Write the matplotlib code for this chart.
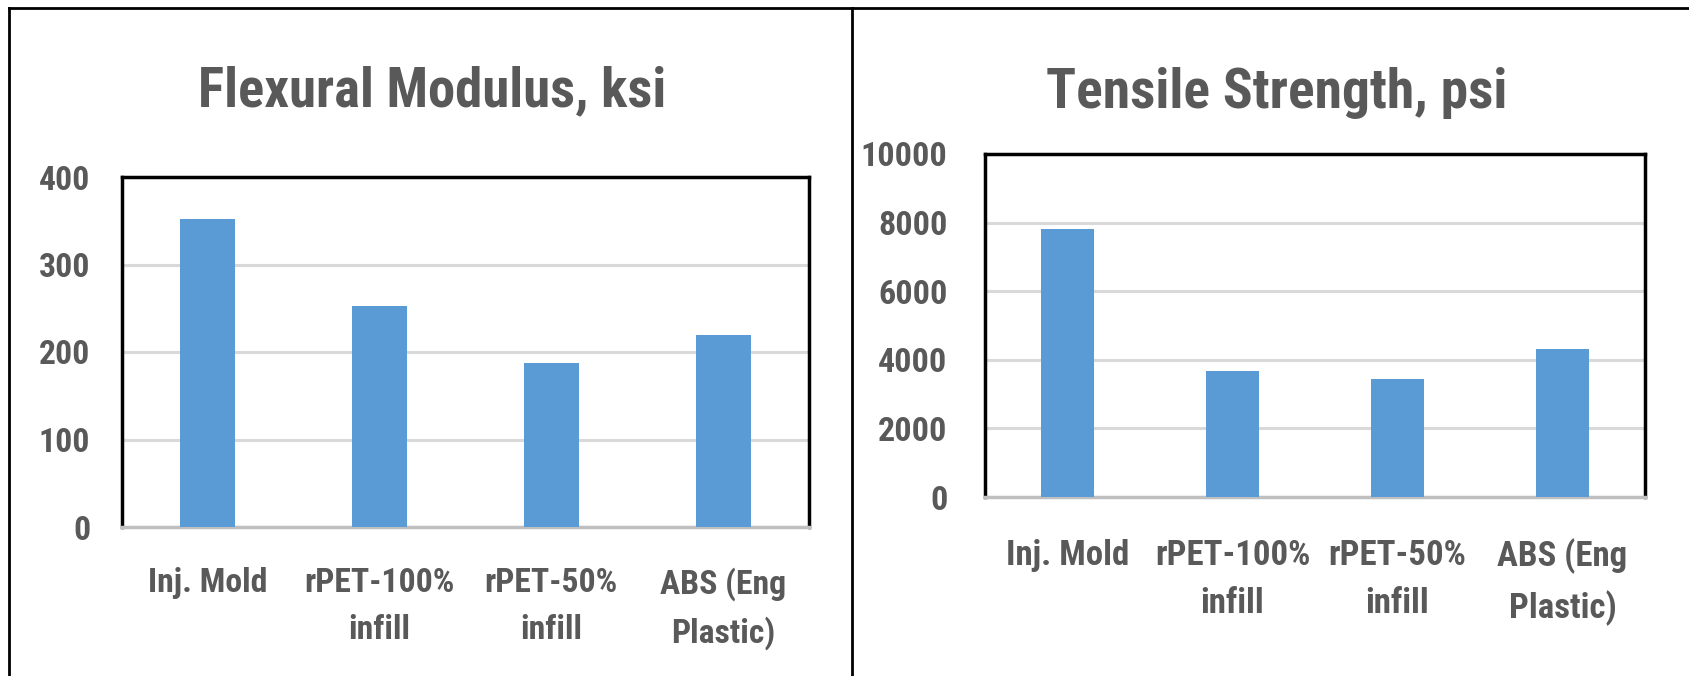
import matplotlib.pyplot as plt
from matplotlib import font_manager
from matplotlib.lines import Line2D

# pick the narrowest family that is installed (Excel used Calibri)
installed = {f.name for f in font_manager.fontManager.ttflist}
candidates = ['Liberation Sans Narrow', 'Roboto Condensed', 'Open Sans Condensed',
              'DejaVu Sans Condensed', 'Roboto', 'Liberation Sans']
family = [c for c in candidates if c in installed][:1] + ['DejaVu Sans']
plt.rcParams['font.family'] = family

# Data
categories = ['Inj. Mold', 'rPET-100%\ninfill', 'rPET-50%\ninfill', 'ABS (Eng\nPlastic)']
flexural_ksi = [352, 253, 188, 220]
tensile_psi = [7800, 3680, 3440, 4320]
flex_ticks = [0, 100, 200, 300, 400]
tens_ticks = [0, 2000, 4000, 6000, 8000, 10000]

bar_color = '#5B9BD5'
text_color = '#595959'
grid_color = '#D9D9D9'

W, H = 1690, 676
fig = plt.figure(figsize=(W / 100, H / 100), dpi=100)
renderer = fig.canvas.get_renderer()


def px_axes(left, top, right, bottom):
    return fig.add_axes([left / W, 1 - bottom / H, (right - left) / W, (bottom - top) / H])


def size_for(text, target_px):
    t = fig.text(0, 0, text, fontsize=20, fontweight='bold')
    w = t.get_window_extent(renderer).width
    t.remove()
    return 20 * target_px / w


def line_step(size):
    # baseline-to-baseline distance at the default linespacing of 1.2
    a = fig.text(0, 0, 'Ag', fontsize=size, fontweight='bold')
    b = fig.text(0, 0, 'Ag\nAg', fontsize=size, fontweight='bold')
    step = b.get_window_extent(renderer).height - a.get_window_extent(renderer).height
    a.remove()
    b.remove()
    return step


def style(ax, values, ticks, tick_w, cat_w, ypad, xpad, step_px):
    x = range(len(values))
    ax.bar(x, values, width=0.32, color=bar_color, zorder=3)
    ax.set_xlim(-0.5, len(values) - 0.5)
    ax.set_ylim(ticks[0], ticks[-1])
    ax.set_yticks(ticks)
    ax.set_yticklabels([str(t) for t in ticks])
    ax.set_xticks(list(x))
    cat_size = size_for('rPET-100%', cat_w)
    spacing = 1.2 * step_px / line_step(cat_size)
    ax.set_xticklabels(categories, linespacing=spacing)
    ax.yaxis.grid(True, color=grid_color, linewidth=2.2, zorder=1)
    ax.set_axisbelow(True)
    ax.tick_params(axis='both', length=0, colors=text_color)
    ax.tick_params(axis='y', labelsize=size_for(str(ticks[-1]), tick_w), pad=ypad)
    ax.tick_params(axis='x', labelsize=cat_size, pad=xpad)
    for lab in ax.get_xticklabels() + ax.get_yticklabels():
        lab.set_fontweight('bold')
    for s in ['top', 'left', 'right']:
        ax.spines[s].set_color('black')
        ax.spines[s].set_linewidth(2.5)
    ax.spines['bottom'].set_color('#BFBFBF')
    ax.spines['bottom'].set_linewidth(2.5)


def title(text, x, baseline, width):
    fig.text(x / W, 1 - baseline / H, text, ha='center', va='baseline',
             fontsize=size_for(text, width), fontweight='bold', color=text_color)


ax1 = px_axes(122, 177, 809, 527)
style(ax1, flexural_ksi, flex_ticks, 51, 150, 23, 29, 49)
title('Flexural Modulus, ksi', 432, 106, 468)

ax2 = px_axes(985, 154, 1645, 497)
style(ax2, tensile_psi, tens_ticks, 86, 155, 27, 30, 50)
title('Tensile Strength, psi', 1277, 108, 460)

# Outer panel frames
frame_kw = dict(color='black', linewidth=2, transform=fig.transFigure)
fig.add_artist(Line2D([9 / W, 9 / W], [0, 1 - 7.5 / H], **frame_kw))
fig.add_artist(Line2D([9 / W, 1], [1 - 7.5 / H, 1 - 7.5 / H], **frame_kw))
fig.add_artist(Line2D([852 / W, 852 / W], [0, 1 - 7.5 / H], **frame_kw))

fig.savefig('out.png', dpi=100, facecolor='white')
